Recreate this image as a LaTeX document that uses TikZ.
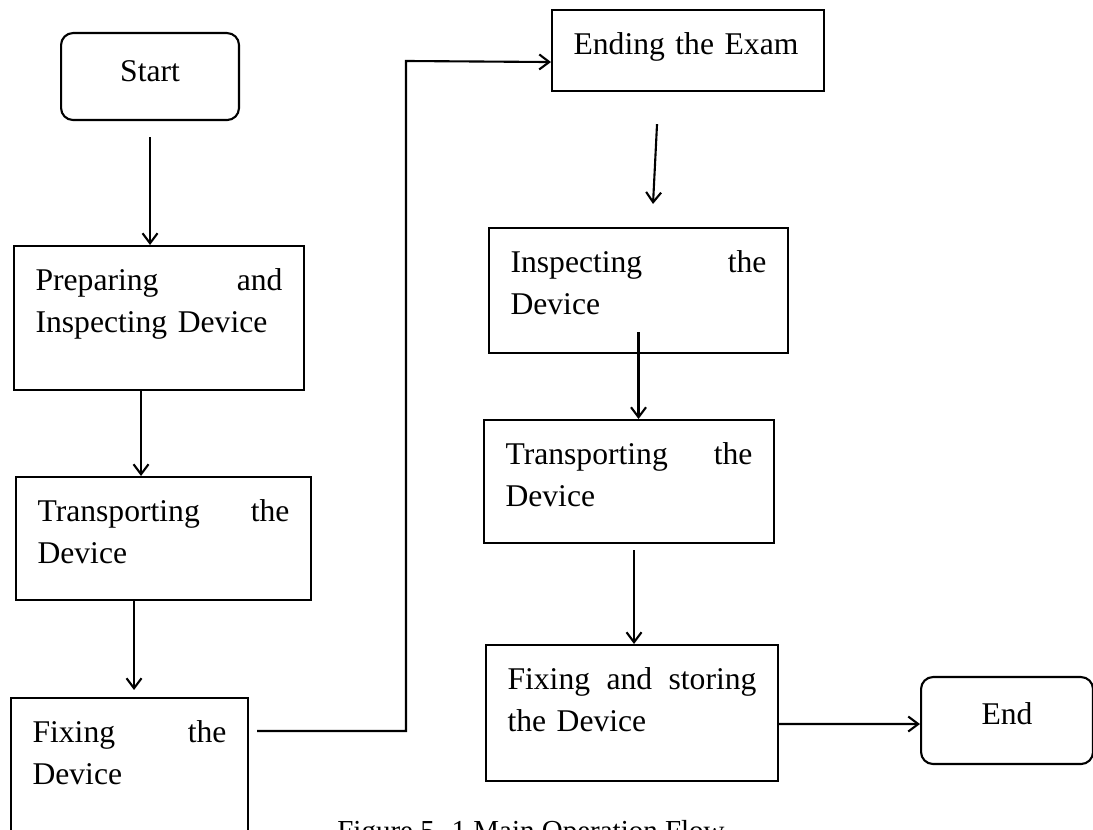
\documentclass[tikz,border=0pt]{standalone}
\usepackage{fontspec}
\setmainfont{Liberation Serif}
\usetikzlibrary{arrows.meta}

\begin{document}
\begin{tikzpicture}[x=0.02cm, y=-0.02cm,
  every node/.style={font=\fontsize{18}{24}\selectfont},
  stepbox/.style={draw, line width=1.2pt, anchor=north west, align=left, inner xsep=0.43cm, inner ysep=0pt, text height=0.88cm},
  termbox/.style={draw, line width=1.2pt, rounded corners=0.24cm, anchor=north west, align=center, inner xsep=0pt, inner ysep=0pt},
  arr/.style={line width=1.2pt, -{Straight Barb[length=2mm, width=3mm]}}]
  \useasboundingbox (0,0) rectangle (1093,830);
  \clip (0,0) rectangle (1093,830);
  \node[termbox, text width=3.56cm, text height=0.96cm, text depth=0.78cm] (start) at (60,32) {Start};
  \node[stepbox, text width=4.94cm, text depth=2.00cm] (prep) at (13,245) {Preparing\hfill and\\Inspecting Device};
  \node[stepbox, text width=5.04cm, text depth=1.58cm] (tra1) at (15,476) {Transporting\hfill the\\Device};
  \node[stepbox, text width=3.88cm, text depth=2.12cm] (fix1) at (10,697) {Fixing\hfill the\\Device};
  \node[stepbox, text width=4.58cm, text depth=0.74cm] (exam) at (551,9) {Ending the Exam};
  \node[stepbox, text width=5.12cm, text depth=1.62cm] (insp) at (488,227) {Inspecting\hfill the\\Device};
  \node[stepbox, text width=4.94cm, text depth=1.58cm] (tra2) at (483,419) {Transporting\hfill the\\Device};
  \node[stepbox, text width=4.98cm, text depth=1.84cm] (fix2) at (485,644) {Fixing\hfill and\hfill storing\\the Device};
  \node[termbox, text width=3.44cm, text height=0.94cm, text depth=0.80cm] (end) at (920,676) {End};
  \node[font=\fontsize{16.5}{20}\selectfont, anchor=base west, inner sep=0pt] (caption) at (337,841) {Figure 5. 1 Main Operation Flow};
  \coordinate (turn) at (406,61);
  \draw[arr] ([yshift=-0.32cm]start.south) -- (start.south |- prep.north);
  \draw[arr] ([xshift=-0.36cm]prep.south) -- ([xshift=-0.36cm]prep.south |- tra1.north);
  \draw[arr] ([xshift=-0.59cm]tra1.south) -- ([xshift=-0.59cm, yshift=0.14cm]tra1.south |- fix1.north);
  \draw[arr] ([xshift=0.16cm, yshift=-0.68cm]fix1.north east) -| (turn) -- ([yshift=-0.23cm]exam.west);
  \draw[arr] ([xshift=-0.62cm, yshift=-0.64cm]exam.south) -- ([xshift=0.29cm, yshift=0.46cm]insp.north);
  \draw[arr] ([yshift=0.44cm]insp.south) -- (insp.south |- tra2.north);
  \draw[arr] ([xshift=0.1cm, yshift=-0.12cm]tra2.south) -- ([xshift=0.1cm]tra2.south |- fix2.north);
  \draw[arr] ([yshift=-0.22cm]fix2.east) -- ([yshift=-0.07cm]end.west);
\end{tikzpicture}
\end{document}
